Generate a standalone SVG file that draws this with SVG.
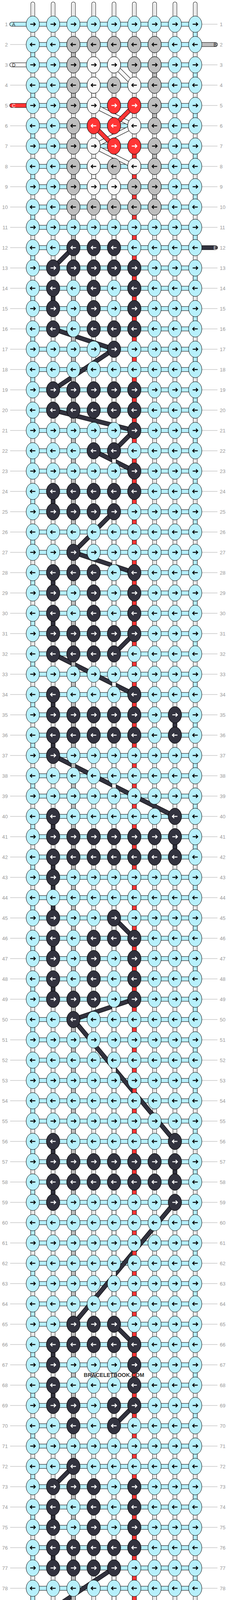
<svg xmlns="http://www.w3.org/2000/svg" xmlns:xlink="http://www.w3.org/1999/xlink" width="584" height="7040" viewBox="0 0 584 7040">
<style>
.n{font:13px "Liberation Sans",Arial,sans-serif;fill:#999}
.ln{text-anchor:end}
.sl{font:12px "Liberation Sans",Arial,sans-serif}
.wm{font:bold 14px "Liberation Sans",Arial,sans-serif;fill:#333;text-anchor:middle}
.o{fill:none;stroke:#000;stroke-width:11.5}
.w{fill:none;stroke-width:9.5}
.rc{stroke-linecap:round}
</style>
<defs>
<pattern id="gl" width="60" height="52" patternUnits="userSpaceOnUse"><rect y="9.5" width="60" height="1" fill="#aaa"/></pattern>
<path id="wp" d="M84,10V7030M136,10V7030M188,10V7030M240,10V7030M292,10V7030M344,10V7030M396,10V7030M448,10V7030M500,10V7030"/>
<path id="pa" d="M30,62H500V114H84V166H500V218H84V270H500V322H84V374H500V426H84V478H500V530H84V582H500V634H84V686H500V738H84V790H500V842H84V894H500V946H84V998H500V1050H84V1102H500V1154H84V1206H500V1258H84V1310H500V1362H84V1414H500V1466H84V1518H500V1570H84V1622H500V1674H84V1726H500V1778H84V1830H500V1882H84V1934H500V1986H84V2038H500V2090H84V2142H500V2194H84V2246H500V2298H84V2350H500V2402H84V2454H500V2506H84V2558H500V2610H84V2662H500V2714H84V2766H500V2818H84V2870H500V2922H84V2974H500V3026H84V3078H500V3130H84V3182H500V3234H84V3286H500V3338H84V3390H500V3442H84V3494H500V3546H84V3598H500V3650H84V3702H500V3754H84V3806H500V3858H84V3910H500V3962H84V4014H500V4066H84V4118H500V4170H84V4222H500V4274H84V4326H500V4378H84V4430H500V4482H84V4534H500V4586H84V4638H500V4690H84V4742H500V4794H84V4846H500V4898H84V4950H500V5002H84V5054H500V5106H84V5158H500V5210H84V5262H500V5314H84V5366H500V5418H84V5470H500V5522H84V5574H500V5626H84V5678H500V5730H84V5782H500V5834H84V5886H500V5938H84V5990H500V6042H84V6094H500V6146H84V6198H500V6250H84V6302H500V6354H84V6406H500V6458H84V6510H500V6562H84V6614H500V6666H84V6718H500V6770H84V6822H500V6874H84V6926H500V6978H30"/>
<path id="pe" d="M188,634L136,686M344,686V738M136,738V790M344,790V842M136,842L292,894M292,894L136,998M344,998V1050M136,1050L344,1102M344,1102L292,1154M240,1154L344,1206M344,1206V1258M136,1258V1310M292,1310L188,1414M188,1414L344,1466M136,1466V1518M344,1518V1570M136,1570V1622M344,1622L292,1674M136,1674L344,1778M136,1778V1830M448,1830V1882M136,1882V1934M136,1934L448,2090M136,2090V2142M448,2142V2194M136,2194V2246M136,2246V2350M292,2350L344,2402M136,2402V2454M344,2454V2506M136,2506V2558M344,2558L188,2610M188,2610L448,2922M136,2922V2974M448,2974V3026M136,3026V3078M448,3078L188,3390M292,3390L344,3442M136,3442V3494M344,3494V3546M136,3546V3598M344,3598L292,3650M188,3650V3754M188,3754L136,3806M344,3806V3858M136,3858V3910M344,3910V3962M136,3962V4014M292,4014L136,4118M344,4118L292,4170M136,4170L344,4222M344,4222V4274M344,4274L136,4326M344,4326L292,4378M136,4378L344,4482M344,4482L188,4534M448,4534V4586M136,4586V4638M344,4638L188,4690M136,4690L188,4742M188,4742L136,5054M292,5054L344,5106M136,5106V5158M344,5158V5210M136,5210V5262M344,5262L188,5314M188,5314L292,5418M188,5418L136,5470M344,5470V5522M136,5522V5574M344,5574V5626M136,5626L292,5678M292,5678L136,5782M344,5782L292,5834M136,5834L344,5886M344,5886V5938M344,5938L136,5990M344,5990L292,6042"/>
<path id="pb" d="M188,114V166M396,166V218M188,218V270M396,270V322M188,322V374M396,374V426M188,426V478M396,478V530M188,530V6510M396,6510V6562M188,6562V6614M396,6614V6666M188,6666V6718M396,6718V6770M188,6770V6822M396,6822V6874M188,6874V6926"/>
<path id="pd" d="M292,166L344,218M240,218V270M240,270L344,322M344,322L240,374M240,374L344,426M240,426V478M292,478V6562M240,6562V6614M344,6614L240,6666M240,6666L344,6718M344,6718L240,6770M240,6770V6822M344,6822L292,6874"/>
<path id="pc" d="M344,270L292,322M240,322L292,374M344,374V6666M292,6666L240,6718M292,6718L344,6770"/>
<g id="kr"><ellipse rx="17" ry="21" stroke="#000"/><path d="M-6.5,0H6M2,-4.5L6.5,0L2,4.5" fill="none" stroke="currentColor" stroke-width="2.3"/></g>
<g id="kl"><ellipse rx="17" ry="21" stroke="#000"/><path d="M6.5,0H-6M-2,-4.5L-6.5,0L-2,4.5" fill="none" stroke="currentColor" stroke-width="2.3"/></g>
<g id="R" fill="#b7f0fc" color="#000"><use href="#kr" x="84"/><use href="#kr" x="136"/><use href="#kr" x="188"/><use href="#kr" x="240"/><use href="#kr" x="292"/><use href="#kr" x="344"/><use href="#kr" x="396"/><use href="#kr" x="448"/><use href="#kr" x="500"/></g>
<g id="L" fill="#b7f0fc" color="#000"><use href="#kl" x="84"/><use href="#kl" x="136"/><use href="#kl" x="188"/><use href="#kl" x="240"/><use href="#kl" x="292"/><use href="#kl" x="344"/><use href="#kl" x="396"/><use href="#kl" x="448"/><use href="#kl" x="500"/></g>
<g id="er" fill="#32323e" color="#fff"><use href="#kr"/></g>
<g id="el" fill="#32323e" color="#fff"><use href="#kl"/></g>
<g id="br" fill="#bebebe" color="#000"><use href="#kr"/></g>
<g id="bl" fill="#bebebe" color="#000"><use href="#kl"/></g>
<g id="dr" fill="#f8f8f8" color="#000"><use href="#kr"/></g>
<g id="dl" fill="#f8f8f8" color="#000"><use href="#kl"/></g>
<g id="cr" fill="#ff3535" color="#fff"><use href="#kr"/></g>
<g id="cl" fill="#ff3535" color="#fff"><use href="#kl"/></g>
</defs>
<rect width="584" height="7040" fill="#fff"/>
<rect x="26" y="40" width="50" height="6960" fill="url(#gl)"/>
<rect x="508" y="40" width="49" height="6960" fill="url(#gl)"/>
<g id="warps">
<use href="#wp" fill="none" stroke="#000" stroke-width="11" class="rc"/>
<use href="#wp" fill="none" stroke="#fafafa" stroke-width="9" class="rc"/>
<use href="#wp" fill="none" stroke="#d0d0d0" stroke-width="3.4"/>
<use href="#wp" fill="none" stroke="#fafafa" stroke-width="1.4"/>
</g>
<g id="connectors">
<use href="#pa" class="o rc"/><use href="#pa" class="w rc" stroke="#b7f0fc"/>
<path class="o rc" d="M552,114H500M30,166H84M30,270H84M552,634H500M30,6770H84M30,6874H84M552,6926H500"/>
<path class="w rc" stroke="#bebebe" d="M552,114H500M552,6926H500"/>
<path class="w rc" stroke="#f8f8f8" d="M30,166H84M30,6874H84"/>
<path class="w rc" stroke="#ff3535" d="M30,270H84M30,6770H84"/>
<path class="w rc" stroke="#32323e" d="M552,634H500"/>
<use href="#pe" class="o"/><use href="#pe" class="w" stroke="#32323e"/>
<use href="#pb" class="o"/><use href="#pb" class="w" stroke="#bebebe"/>
<use href="#pd" class="o"/><use href="#pd" class="w" stroke="#f8f8f8"/>
<use href="#pc" class="o"/><use href="#pc" class="w" stroke="#ff3535"/>
</g>
<g id="strings" class="sl">
<text x="31" y="66.5" fill="#222">A</text>
<text x="555" y="118.5" fill="#222" text-anchor="end">B</text>
<text x="31" y="170.5" fill="#222">D</text>
<text x="31" y="274.5" fill="#fff">C</text>
<text x="555" y="638.5" fill="#fff" text-anchor="end">E</text>
<text x="31" y="6774.5" fill="#fff">C</text>
<text x="31" y="6878.5" fill="#222">D</text>
<text x="555" y="6930.5" fill="#222" text-anchor="end">B</text>
<text x="31" y="6982.5" fill="#222">A</text>
</g>
<g class="n">
<g id="row1" transform="translate(0,62)"><use href="#R"/><text class="ln" x="20" y="4.5">1</text><text x="563" y="4.5">1</text></g>
<g id="row2" transform="translate(0,114)"><use href="#L"/><use href="#bl" x="188"/><use href="#bl" x="240"/><use href="#bl" x="292"/><use href="#bl" x="344"/><use href="#bl" x="396"/><text class="ln" x="20" y="4.5">2</text><text x="563" y="4.5">2</text></g>
<g id="row3" transform="translate(0,166)"><use href="#R"/><use href="#br" x="188"/><use href="#dr" x="240"/><use href="#dr" x="292"/><use href="#br" x="344"/><use href="#br" x="396"/><text class="ln" x="20" y="4.5">3</text><text x="563" y="4.5">3</text></g>
<g id="row4" transform="translate(0,218)"><use href="#L"/><use href="#bl" x="188"/><use href="#dl" x="240"/><use href="#bl" x="292"/><use href="#dl" x="344"/><use href="#bl" x="396"/><text class="ln" x="20" y="4.5">4</text><text x="563" y="4.5">4</text></g>
<g id="row5" transform="translate(0,270)"><use href="#R"/><use href="#br" x="188"/><use href="#dr" x="240"/><use href="#cr" x="292"/><use href="#cr" x="344"/><use href="#br" x="396"/><text class="ln" x="20" y="4.5">5</text><text x="563" y="4.5">5</text></g>
<g id="row6" transform="translate(0,322)"><use href="#L"/><use href="#bl" x="188"/><use href="#cl" x="240"/><use href="#cl" x="292"/><use href="#dl" x="344"/><use href="#bl" x="396"/><text class="ln" x="20" y="4.5">6</text><text x="563" y="4.5">6</text></g>
<g id="row7" transform="translate(0,374)"><use href="#R"/><use href="#br" x="188"/><use href="#dr" x="240"/><use href="#cr" x="292"/><use href="#cr" x="344"/><use href="#br" x="396"/><text class="ln" x="20" y="4.5">7</text><text x="563" y="4.5">7</text></g>
<g id="row8" transform="translate(0,426)"><use href="#L"/><use href="#bl" x="188"/><use href="#dl" x="240"/><use href="#bl" x="292"/><use href="#dl" x="344"/><use href="#bl" x="396"/><text class="ln" x="20" y="4.5">8</text><text x="563" y="4.5">8</text></g>
<g id="row9" transform="translate(0,478)"><use href="#R"/><use href="#br" x="188"/><use href="#dr" x="240"/><use href="#dr" x="292"/><use href="#br" x="344"/><use href="#br" x="396"/><text class="ln" x="20" y="4.5">9</text><text x="563" y="4.5">9</text></g>
<g id="row10" transform="translate(0,530)"><use href="#L"/><use href="#bl" x="188"/><use href="#bl" x="240"/><use href="#bl" x="292"/><use href="#bl" x="344"/><use href="#bl" x="396"/><text class="ln" x="20" y="4.5">10</text><text x="563" y="4.5">10</text></g>
<g id="row11" transform="translate(0,582)"><use href="#R"/><text class="ln" x="20" y="4.5">11</text><text x="563" y="4.5">11</text></g>
<g id="row12" transform="translate(0,634)"><use href="#L"/><use href="#el" x="188"/><use href="#el" x="240"/><use href="#el" x="292"/><text class="ln" x="20" y="4.5">12</text><text x="563" y="4.5">12</text></g>
<g id="row13" transform="translate(0,686)"><use href="#R"/><use href="#er" x="136"/><use href="#er" x="188"/><use href="#er" x="240"/><use href="#er" x="292"/><use href="#er" x="344"/><text class="ln" x="20" y="4.5">13</text><text x="563" y="4.5">13</text></g>
<g id="row14" transform="translate(0,738)"><use href="#L"/><use href="#el" x="136"/><use href="#el" x="240"/><use href="#el" x="344"/><text class="ln" x="20" y="4.5">14</text><text x="563" y="4.5">14</text></g>
<g id="row15" transform="translate(0,790)"><use href="#R"/><use href="#er" x="136"/><use href="#er" x="240"/><use href="#er" x="344"/><text class="ln" x="20" y="4.5">15</text><text x="563" y="4.5">15</text></g>
<g id="row16" transform="translate(0,842)"><use href="#L"/><use href="#el" x="136"/><use href="#el" x="240"/><use href="#el" x="292"/><use href="#el" x="344"/><text class="ln" x="20" y="4.5">16</text><text x="563" y="4.5">16</text></g>
<g id="row17" transform="translate(0,894)"><use href="#R"/><use href="#er" x="292"/><text class="ln" x="20" y="4.5">17</text><text x="563" y="4.5">17</text></g>
<g id="row18" transform="translate(0,946)"><use href="#L"/><text class="ln" x="20" y="4.5">18</text><text x="563" y="4.5">18</text></g>
<g id="row19" transform="translate(0,998)"><use href="#R"/><use href="#er" x="136"/><use href="#er" x="188"/><use href="#er" x="240"/><use href="#er" x="292"/><use href="#er" x="344"/><text class="ln" x="20" y="4.5">19</text><text x="563" y="4.5">19</text></g>
<g id="row20" transform="translate(0,1050)"><use href="#L"/><use href="#el" x="136"/><use href="#el" x="188"/><use href="#el" x="240"/><use href="#el" x="292"/><use href="#el" x="344"/><text class="ln" x="20" y="4.5">20</text><text x="563" y="4.5">20</text></g>
<g id="row21" transform="translate(0,1102)"><use href="#R"/><use href="#er" x="344"/><text class="ln" x="20" y="4.5">21</text><text x="563" y="4.5">21</text></g>
<g id="row22" transform="translate(0,1154)"><use href="#L"/><use href="#el" x="240"/><use href="#el" x="292"/><text class="ln" x="20" y="4.5">22</text><text x="563" y="4.5">22</text></g>
<g id="row23" transform="translate(0,1206)"><use href="#R"/><use href="#er" x="344"/><text class="ln" x="20" y="4.5">23</text><text x="563" y="4.5">23</text></g>
<g id="row24" transform="translate(0,1258)"><use href="#L"/><use href="#el" x="136"/><use href="#el" x="188"/><use href="#el" x="240"/><use href="#el" x="292"/><use href="#el" x="344"/><text class="ln" x="20" y="4.5">24</text><text x="563" y="4.5">24</text></g>
<g id="row25" transform="translate(0,1310)"><use href="#R"/><use href="#er" x="136"/><use href="#er" x="188"/><use href="#er" x="240"/><use href="#er" x="292"/><text class="ln" x="20" y="4.5">25</text><text x="563" y="4.5">25</text></g>
<g id="row26" transform="translate(0,1362)"><use href="#L"/><text class="ln" x="20" y="4.5">26</text><text x="563" y="4.5">26</text></g>
<g id="row27" transform="translate(0,1414)"><use href="#R"/><use href="#er" x="188"/><text class="ln" x="20" y="4.5">27</text><text x="563" y="4.5">27</text></g>
<g id="row28" transform="translate(0,1466)"><use href="#L"/><use href="#el" x="136"/><use href="#el" x="188"/><use href="#el" x="240"/><use href="#el" x="344"/><text class="ln" x="20" y="4.5">28</text><text x="563" y="4.5">28</text></g>
<g id="row29" transform="translate(0,1518)"><use href="#R"/><use href="#er" x="136"/><use href="#er" x="240"/><use href="#er" x="344"/><text class="ln" x="20" y="4.5">29</text><text x="563" y="4.5">29</text></g>
<g id="row30" transform="translate(0,1570)"><use href="#L"/><use href="#el" x="136"/><use href="#el" x="240"/><use href="#el" x="344"/><text class="ln" x="20" y="4.5">30</text><text x="563" y="4.5">30</text></g>
<g id="row31" transform="translate(0,1622)"><use href="#R"/><use href="#er" x="136"/><use href="#er" x="188"/><use href="#er" x="240"/><use href="#er" x="292"/><use href="#er" x="344"/><text class="ln" x="20" y="4.5">31</text><text x="563" y="4.5">31</text></g>
<g id="row32" transform="translate(0,1674)"><use href="#L"/><use href="#el" x="136"/><use href="#el" x="188"/><use href="#el" x="240"/><use href="#el" x="292"/><text class="ln" x="20" y="4.5">32</text><text x="563" y="4.5">32</text></g>
<g id="row33" transform="translate(0,1726)"><use href="#R"/><text class="ln" x="20" y="4.5">33</text><text x="563" y="4.5">33</text></g>
<g id="row34" transform="translate(0,1778)"><use href="#L"/><use href="#el" x="136"/><use href="#el" x="344"/><text class="ln" x="20" y="4.5">34</text><text x="563" y="4.5">34</text></g>
<g id="row35" transform="translate(0,1830)"><use href="#R"/><use href="#er" x="136"/><use href="#er" x="188"/><use href="#er" x="240"/><use href="#er" x="292"/><use href="#er" x="344"/><use href="#er" x="448"/><text class="ln" x="20" y="4.5">35</text><text x="563" y="4.5">35</text></g>
<g id="row36" transform="translate(0,1882)"><use href="#L"/><use href="#el" x="136"/><use href="#el" x="188"/><use href="#el" x="240"/><use href="#el" x="292"/><use href="#el" x="344"/><use href="#el" x="448"/><text class="ln" x="20" y="4.5">36</text><text x="563" y="4.5">36</text></g>
<g id="row37" transform="translate(0,1934)"><use href="#R"/><use href="#er" x="136"/><text class="ln" x="20" y="4.5">37</text><text x="563" y="4.5">37</text></g>
<g id="row38" transform="translate(0,1986)"><use href="#L"/><text class="ln" x="20" y="4.5">38</text><text x="563" y="4.5">38</text></g>
<g id="row39" transform="translate(0,2038)"><use href="#R"/><text class="ln" x="20" y="4.5">39</text><text x="563" y="4.5">39</text></g>
<g id="row40" transform="translate(0,2090)"><use href="#L"/><use href="#el" x="136"/><use href="#el" x="448"/><text class="ln" x="20" y="4.5">40</text><text x="563" y="4.5">40</text></g>
<g id="row41" transform="translate(0,2142)"><use href="#R"/><use href="#er" x="136"/><use href="#er" x="188"/><use href="#er" x="240"/><use href="#er" x="292"/><use href="#er" x="344"/><use href="#er" x="396"/><use href="#er" x="448"/><text class="ln" x="20" y="4.5">41</text><text x="563" y="4.5">41</text></g>
<g id="row42" transform="translate(0,2194)"><use href="#L"/><use href="#el" x="136"/><use href="#el" x="188"/><use href="#el" x="240"/><use href="#el" x="292"/><use href="#el" x="344"/><use href="#el" x="396"/><use href="#el" x="448"/><text class="ln" x="20" y="4.5">42</text><text x="563" y="4.5">42</text></g>
<g id="row43" transform="translate(0,2246)"><use href="#R"/><use href="#er" x="136"/><text class="ln" x="20" y="4.5">43</text><text x="563" y="4.5">43</text></g>
<g id="row44" transform="translate(0,2298)"><use href="#L"/><text class="ln" x="20" y="4.5">44</text><text x="563" y="4.5">44</text></g>
<g id="row45" transform="translate(0,2350)"><use href="#R"/><use href="#er" x="136"/><use href="#er" x="292"/><text class="ln" x="20" y="4.5">45</text><text x="563" y="4.5">45</text></g>
<g id="row46" transform="translate(0,2402)"><use href="#L"/><use href="#el" x="136"/><use href="#el" x="240"/><use href="#el" x="292"/><use href="#el" x="344"/><text class="ln" x="20" y="4.5">46</text><text x="563" y="4.5">46</text></g>
<g id="row47" transform="translate(0,2454)"><use href="#R"/><use href="#er" x="136"/><use href="#er" x="240"/><use href="#er" x="344"/><text class="ln" x="20" y="4.5">47</text><text x="563" y="4.5">47</text></g>
<g id="row48" transform="translate(0,2506)"><use href="#L"/><use href="#el" x="136"/><use href="#el" x="240"/><use href="#el" x="344"/><text class="ln" x="20" y="4.5">48</text><text x="563" y="4.5">48</text></g>
<g id="row49" transform="translate(0,2558)"><use href="#R"/><use href="#er" x="136"/><use href="#er" x="188"/><use href="#er" x="240"/><use href="#er" x="344"/><text class="ln" x="20" y="4.5">49</text><text x="563" y="4.5">49</text></g>
<g id="row50" transform="translate(0,2610)"><use href="#L"/><use href="#el" x="188"/><text class="ln" x="20" y="4.5">50</text><text x="563" y="4.5">50</text></g>
<g id="row51" transform="translate(0,2662)"><use href="#R"/><text class="ln" x="20" y="4.5">51</text><text x="563" y="4.5">51</text></g>
<g id="row52" transform="translate(0,2714)"><use href="#L"/><text class="ln" x="20" y="4.5">52</text><text x="563" y="4.5">52</text></g>
<g id="row53" transform="translate(0,2766)"><use href="#R"/><text class="ln" x="20" y="4.5">53</text><text x="563" y="4.5">53</text></g>
<g id="row54" transform="translate(0,2818)"><use href="#L"/><text class="ln" x="20" y="4.5">54</text><text x="563" y="4.5">54</text></g>
<g id="row55" transform="translate(0,2870)"><use href="#R"/><text class="ln" x="20" y="4.5">55</text><text x="563" y="4.5">55</text></g>
<g id="row56" transform="translate(0,2922)"><use href="#L"/><use href="#el" x="136"/><use href="#el" x="448"/><text class="ln" x="20" y="4.5">56</text><text x="563" y="4.5">56</text></g>
<g id="row57" transform="translate(0,2974)"><use href="#R"/><use href="#er" x="136"/><use href="#er" x="188"/><use href="#er" x="240"/><use href="#er" x="292"/><use href="#er" x="344"/><use href="#er" x="396"/><use href="#er" x="448"/><text class="ln" x="20" y="4.5">57</text><text x="563" y="4.5">57</text></g>
<g id="row58" transform="translate(0,3026)"><use href="#L"/><use href="#el" x="136"/><use href="#el" x="188"/><use href="#el" x="240"/><use href="#el" x="292"/><use href="#el" x="344"/><use href="#el" x="396"/><use href="#el" x="448"/><text class="ln" x="20" y="4.5">58</text><text x="563" y="4.5">58</text></g>
<g id="row59" transform="translate(0,3078)"><use href="#R"/><use href="#er" x="136"/><use href="#er" x="448"/><text class="ln" x="20" y="4.5">59</text><text x="563" y="4.5">59</text></g>
<g id="row60" transform="translate(0,3130)"><use href="#L"/><text class="ln" x="20" y="4.5">60</text><text x="563" y="4.5">60</text></g>
<g id="row61" transform="translate(0,3182)"><use href="#R"/><text class="ln" x="20" y="4.5">61</text><text x="563" y="4.5">61</text></g>
<g id="row62" transform="translate(0,3234)"><use href="#L"/><text class="ln" x="20" y="4.5">62</text><text x="563" y="4.5">62</text></g>
<g id="row63" transform="translate(0,3286)"><use href="#R"/><text class="ln" x="20" y="4.5">63</text><text x="563" y="4.5">63</text></g>
<g id="row64" transform="translate(0,3338)"><use href="#L"/><text class="ln" x="20" y="4.5">64</text><text x="563" y="4.5">64</text></g>
<g id="row65" transform="translate(0,3390)"><use href="#R"/><use href="#er" x="188"/><use href="#er" x="240"/><use href="#er" x="292"/><text class="ln" x="20" y="4.5">65</text><text x="563" y="4.5">65</text></g>
<g id="row66" transform="translate(0,3442)"><use href="#L"/><use href="#el" x="136"/><use href="#el" x="188"/><use href="#el" x="240"/><use href="#el" x="292"/><use href="#el" x="344"/><text class="ln" x="20" y="4.5">66</text><text x="563" y="4.5">66</text></g>
<g id="row67" transform="translate(0,3494)"><use href="#R"/><use href="#er" x="136"/><use href="#er" x="344"/><text class="ln" x="20" y="4.5">67</text><text x="563" y="4.5">67</text></g>
<g id="row68" transform="translate(0,3546)"><use href="#L"/><use href="#el" x="136"/><use href="#el" x="344"/><text class="ln" x="20" y="4.5">68</text><text x="563" y="4.5">68</text></g>
<g id="row69" transform="translate(0,3598)"><use href="#R"/><use href="#er" x="136"/><use href="#er" x="188"/><use href="#er" x="292"/><use href="#er" x="344"/><text class="ln" x="20" y="4.5">69</text><text x="563" y="4.5">69</text></g>
<g id="row70" transform="translate(0,3650)"><use href="#L"/><use href="#el" x="188"/><use href="#el" x="292"/><text class="ln" x="20" y="4.5">70</text><text x="563" y="4.5">70</text></g>
<g id="row71" transform="translate(0,3702)"><use href="#R"/><text class="ln" x="20" y="4.5">71</text><text x="563" y="4.5">71</text></g>
<g id="row72" transform="translate(0,3754)"><use href="#L"/><use href="#el" x="188"/><text class="ln" x="20" y="4.5">72</text><text x="563" y="4.5">72</text></g>
<g id="row73" transform="translate(0,3806)"><use href="#R"/><use href="#er" x="136"/><use href="#er" x="188"/><use href="#er" x="240"/><use href="#er" x="344"/><text class="ln" x="20" y="4.5">73</text><text x="563" y="4.5">73</text></g>
<g id="row74" transform="translate(0,3858)"><use href="#L"/><use href="#el" x="136"/><use href="#el" x="240"/><use href="#el" x="344"/><text class="ln" x="20" y="4.5">74</text><text x="563" y="4.5">74</text></g>
<g id="row75" transform="translate(0,3910)"><use href="#R"/><use href="#er" x="136"/><use href="#er" x="240"/><use href="#er" x="344"/><text class="ln" x="20" y="4.5">75</text><text x="563" y="4.5">75</text></g>
<g id="row76" transform="translate(0,3962)"><use href="#L"/><use href="#el" x="136"/><use href="#el" x="188"/><use href="#el" x="240"/><use href="#el" x="292"/><use href="#el" x="344"/><text class="ln" x="20" y="4.5">76</text><text x="563" y="4.5">76</text></g>
<g id="row77" transform="translate(0,4014)"><use href="#R"/><use href="#er" x="136"/><use href="#er" x="188"/><use href="#er" x="240"/><use href="#er" x="292"/><text class="ln" x="20" y="4.5">77</text><text x="563" y="4.5">77</text></g>
<g id="row78" transform="translate(0,4066)"><use href="#L"/><text class="ln" x="20" y="4.5">78</text><text x="563" y="4.5">78</text></g>
<g id="row79" transform="translate(0,4118)"><use href="#R"/><use href="#er" x="136"/><use href="#er" x="188"/><use href="#er" x="240"/><use href="#er" x="292"/><use href="#er" x="344"/><text class="ln" x="20" y="4.5">79</text><text x="563" y="4.5">79</text></g>
<g id="row80" transform="translate(0,4170)"><use href="#L"/><use href="#el" x="136"/><use href="#el" x="188"/><use href="#el" x="240"/><use href="#el" x="292"/><text class="ln" x="20" y="4.5">80</text><text x="563" y="4.5">80</text></g>
<g id="row81" transform="translate(0,4222)"><use href="#R"/><use href="#er" x="344"/><text class="ln" x="20" y="4.5">81</text><text x="563" y="4.5">81</text></g>
<g id="row82" transform="translate(0,4274)"><use href="#L"/><use href="#el" x="344"/><text class="ln" x="20" y="4.5">82</text><text x="563" y="4.5">82</text></g>
<g id="row83" transform="translate(0,4326)"><use href="#R"/><use href="#er" x="136"/><use href="#er" x="188"/><use href="#er" x="240"/><use href="#er" x="292"/><use href="#er" x="344"/><text class="ln" x="20" y="4.5">83</text><text x="563" y="4.5">83</text></g>
<g id="row84" transform="translate(0,4378)"><use href="#L"/><use href="#el" x="136"/><use href="#el" x="188"/><use href="#el" x="240"/><use href="#el" x="292"/><text class="ln" x="20" y="4.5">84</text><text x="563" y="4.5">84</text></g>
<g id="row85" transform="translate(0,4430)"><use href="#R"/><text class="ln" x="20" y="4.5">85</text><text x="563" y="4.5">85</text></g>
<g id="row86" transform="translate(0,4482)"><use href="#L"/><use href="#el" x="344"/><text class="ln" x="20" y="4.5">86</text><text x="563" y="4.5">86</text></g>
<g id="row87" transform="translate(0,4534)"><use href="#R"/><use href="#er" x="188"/><use href="#er" x="240"/><use href="#er" x="292"/><use href="#er" x="344"/><use href="#er" x="396"/><use href="#er" x="448"/><text class="ln" x="20" y="4.5">87</text><text x="563" y="4.5">87</text></g>
<g id="row88" transform="translate(0,4586)"><use href="#L"/><use href="#el" x="136"/><use href="#el" x="188"/><use href="#el" x="240"/><use href="#el" x="292"/><use href="#el" x="344"/><use href="#el" x="396"/><use href="#el" x="448"/><text class="ln" x="20" y="4.5">88</text><text x="563" y="4.5">88</text></g>
<g id="row89" transform="translate(0,4638)"><use href="#R"/><use href="#er" x="136"/><use href="#er" x="344"/><text class="ln" x="20" y="4.5">89</text><text x="563" y="4.5">89</text></g>
<g id="row90" transform="translate(0,4690)"><use href="#L"/><use href="#el" x="136"/><use href="#el" x="188"/><text class="ln" x="20" y="4.5">90</text><text x="563" y="4.5">90</text></g>
<g id="row91" transform="translate(0,4742)"><use href="#R"/><use href="#er" x="188"/><text class="ln" x="20" y="4.5">91</text><text x="563" y="4.5">91</text></g>
<g id="row92" transform="translate(0,4794)"><use href="#L"/><text class="ln" x="20" y="4.5">92</text><text x="563" y="4.5">92</text></g>
<g id="row93" transform="translate(0,4846)"><use href="#R"/><text class="ln" x="20" y="4.5">93</text><text x="563" y="4.5">93</text></g>
<g id="row94" transform="translate(0,4898)"><use href="#L"/><text class="ln" x="20" y="4.5">94</text><text x="563" y="4.5">94</text></g>
<g id="row95" transform="translate(0,4950)"><use href="#R"/><text class="ln" x="20" y="4.5">95</text><text x="563" y="4.5">95</text></g>
<g id="row96" transform="translate(0,5002)"><use href="#L"/><text class="ln" x="20" y="4.5">96</text><text x="563" y="4.5">96</text></g>
<g id="row97" transform="translate(0,5054)"><use href="#R"/><use href="#er" x="136"/><use href="#er" x="292"/><text class="ln" x="20" y="4.5">97</text><text x="563" y="4.5">97</text></g>
<g id="row98" transform="translate(0,5106)"><use href="#L"/><use href="#el" x="136"/><use href="#el" x="240"/><use href="#el" x="292"/><use href="#el" x="344"/><text class="ln" x="20" y="4.5">98</text><text x="563" y="4.5">98</text></g>
<g id="row99" transform="translate(0,5158)"><use href="#R"/><use href="#er" x="136"/><use href="#er" x="240"/><use href="#er" x="344"/><text class="ln" x="20" y="4.5">99</text><text x="563" y="4.5">99</text></g>
<g id="row100" transform="translate(0,5210)"><use href="#L"/><use href="#el" x="136"/><use href="#el" x="240"/><use href="#el" x="344"/><text class="ln" x="20" y="4.5">100</text><text x="563" y="4.5">100</text></g>
<g id="row101" transform="translate(0,5262)"><use href="#R"/><use href="#er" x="136"/><use href="#er" x="188"/><use href="#er" x="240"/><use href="#er" x="344"/><text class="ln" x="20" y="4.5">101</text><text x="563" y="4.5">101</text></g>
<g id="row102" transform="translate(0,5314)"><use href="#L"/><use href="#el" x="188"/><text class="ln" x="20" y="4.5">102</text><text x="563" y="4.5">102</text></g>
<g id="row103" transform="translate(0,5366)"><use href="#R"/><text class="ln" x="20" y="4.5">103</text><text x="563" y="4.5">103</text></g>
<g id="row104" transform="translate(0,5418)"><use href="#L"/><use href="#el" x="188"/><use href="#el" x="240"/><use href="#el" x="292"/><text class="ln" x="20" y="4.5">104</text><text x="563" y="4.5">104</text></g>
<g id="row105" transform="translate(0,5470)"><use href="#R"/><use href="#er" x="136"/><use href="#er" x="188"/><use href="#er" x="240"/><use href="#er" x="292"/><use href="#er" x="344"/><text class="ln" x="20" y="4.5">105</text><text x="563" y="4.5">105</text></g>
<g id="row106" transform="translate(0,5522)"><use href="#L"/><use href="#el" x="136"/><use href="#el" x="240"/><use href="#el" x="344"/><text class="ln" x="20" y="4.5">106</text><text x="563" y="4.5">106</text></g>
<g id="row107" transform="translate(0,5574)"><use href="#R"/><use href="#er" x="136"/><use href="#er" x="240"/><use href="#er" x="344"/><text class="ln" x="20" y="4.5">107</text><text x="563" y="4.5">107</text></g>
<g id="row108" transform="translate(0,5626)"><use href="#L"/><use href="#el" x="136"/><use href="#el" x="240"/><use href="#el" x="292"/><use href="#el" x="344"/><text class="ln" x="20" y="4.5">108</text><text x="563" y="4.5">108</text></g>
<g id="row109" transform="translate(0,5678)"><use href="#R"/><use href="#er" x="292"/><text class="ln" x="20" y="4.5">109</text><text x="563" y="4.5">109</text></g>
<g id="row110" transform="translate(0,5730)"><use href="#L"/><text class="ln" x="20" y="4.5">110</text><text x="563" y="4.5">110</text></g>
<g id="row111" transform="translate(0,5782)"><use href="#R"/><use href="#er" x="136"/><use href="#er" x="188"/><use href="#er" x="240"/><use href="#er" x="292"/><use href="#er" x="344"/><text class="ln" x="20" y="4.5">111</text><text x="563" y="4.5">111</text></g>
<g id="row112" transform="translate(0,5834)"><use href="#L"/><use href="#el" x="136"/><use href="#el" x="188"/><use href="#el" x="240"/><use href="#el" x="292"/><text class="ln" x="20" y="4.5">112</text><text x="563" y="4.5">112</text></g>
<g id="row113" transform="translate(0,5886)"><use href="#R"/><use href="#er" x="344"/><text class="ln" x="20" y="4.5">113</text><text x="563" y="4.5">113</text></g>
<g id="row114" transform="translate(0,5938)"><use href="#L"/><use href="#el" x="344"/><text class="ln" x="20" y="4.5">114</text><text x="563" y="4.5">114</text></g>
<g id="row115" transform="translate(0,5990)"><use href="#R"/><use href="#er" x="136"/><use href="#er" x="188"/><use href="#er" x="240"/><use href="#er" x="292"/><use href="#er" x="344"/><text class="ln" x="20" y="4.5">115</text><text x="563" y="4.5">115</text></g>
<g id="row116" transform="translate(0,6042)"><use href="#L"/><use href="#el" x="136"/><use href="#el" x="188"/><use href="#el" x="240"/><use href="#el" x="292"/><text class="ln" x="20" y="4.5">116</text><text x="563" y="4.5">116</text></g>
<g id="row117" transform="translate(0,6094)"><use href="#R"/><text class="ln" x="20" y="4.5">117</text><text x="563" y="4.5">117</text></g>
<g id="row118" transform="translate(0,6146)"><use href="#L"/><text class="ln" x="20" y="4.5">118</text><text x="563" y="4.5">118</text></g>
<g id="row119" transform="translate(0,6198)"><use href="#R"/><text class="ln" x="20" y="4.5">119</text><text x="563" y="4.5">119</text></g>
<g id="row120" transform="translate(0,6250)"><use href="#L"/><text class="ln" x="20" y="4.5">120</text><text x="563" y="4.5">120</text></g>
<g id="row121" transform="translate(0,6302)"><use href="#R"/><text class="ln" x="20" y="4.5">121</text><text x="563" y="4.5">121</text></g>
<g id="row122" transform="translate(0,6354)"><use href="#L"/><text class="ln" x="20" y="4.5">122</text><text x="563" y="4.5">122</text></g>
<g id="row123" transform="translate(0,6406)"><use href="#R"/><text class="ln" x="20" y="4.5">123</text><text x="563" y="4.5">123</text></g>
<g id="row124" transform="translate(0,6458)"><use href="#L"/><text class="ln" x="20" y="4.5">124</text><text x="563" y="4.5">124</text></g>
<g id="row125" transform="translate(0,6510)"><use href="#R"/><use href="#br" x="188"/><use href="#br" x="240"/><use href="#br" x="292"/><use href="#br" x="344"/><use href="#br" x="396"/><text class="ln" x="20" y="4.5">125</text><text x="563" y="4.5">125</text></g>
<g id="row126" transform="translate(0,6562)"><use href="#L"/><use href="#bl" x="188"/><use href="#dl" x="240"/><use href="#dl" x="292"/><use href="#bl" x="344"/><use href="#bl" x="396"/><text class="ln" x="20" y="4.5">126</text><text x="563" y="4.5">126</text></g>
<g id="row127" transform="translate(0,6614)"><use href="#R"/><use href="#br" x="188"/><use href="#dr" x="240"/><use href="#br" x="292"/><use href="#dr" x="344"/><use href="#br" x="396"/><text class="ln" x="20" y="4.5">127</text><text x="563" y="4.5">127</text></g>
<g id="row128" transform="translate(0,6666)"><use href="#L"/><use href="#bl" x="188"/><use href="#dl" x="240"/><use href="#cl" x="292"/><use href="#cl" x="344"/><use href="#bl" x="396"/><text class="ln" x="20" y="4.5">128</text><text x="563" y="4.5">128</text></g>
<g id="row129" transform="translate(0,6718)"><use href="#R"/><use href="#br" x="188"/><use href="#cr" x="240"/><use href="#cr" x="292"/><use href="#dr" x="344"/><use href="#br" x="396"/><text class="ln" x="20" y="4.5">129</text><text x="563" y="4.5">129</text></g>
<g id="row130" transform="translate(0,6770)"><use href="#L"/><use href="#bl" x="188"/><use href="#dl" x="240"/><use href="#cl" x="292"/><use href="#cl" x="344"/><use href="#bl" x="396"/><text class="ln" x="20" y="4.5">130</text><text x="563" y="4.5">130</text></g>
<g id="row131" transform="translate(0,6822)"><use href="#R"/><use href="#br" x="188"/><use href="#dr" x="240"/><use href="#br" x="292"/><use href="#dr" x="344"/><use href="#br" x="396"/><text class="ln" x="20" y="4.5">131</text><text x="563" y="4.5">131</text></g>
<g id="row132" transform="translate(0,6874)"><use href="#L"/><use href="#bl" x="188"/><use href="#dl" x="240"/><use href="#dl" x="292"/><use href="#bl" x="344"/><use href="#bl" x="396"/><text class="ln" x="20" y="4.5">132</text><text x="563" y="4.5">132</text></g>
<g id="row133" transform="translate(0,6926)"><use href="#R"/><use href="#br" x="188"/><use href="#br" x="240"/><use href="#br" x="292"/><use href="#br" x="344"/><use href="#br" x="396"/><text class="ln" x="20" y="4.5">133</text><text x="563" y="4.5">133</text></g>
<g id="row134" transform="translate(0,6978)"><use href="#L"/><text class="ln" x="20" y="4.5">134</text><text x="563" y="4.5">134</text></g>
</g>
<text class="wm" x="292" y="3525">BRACELETBOOK.COM</text>
</svg>
